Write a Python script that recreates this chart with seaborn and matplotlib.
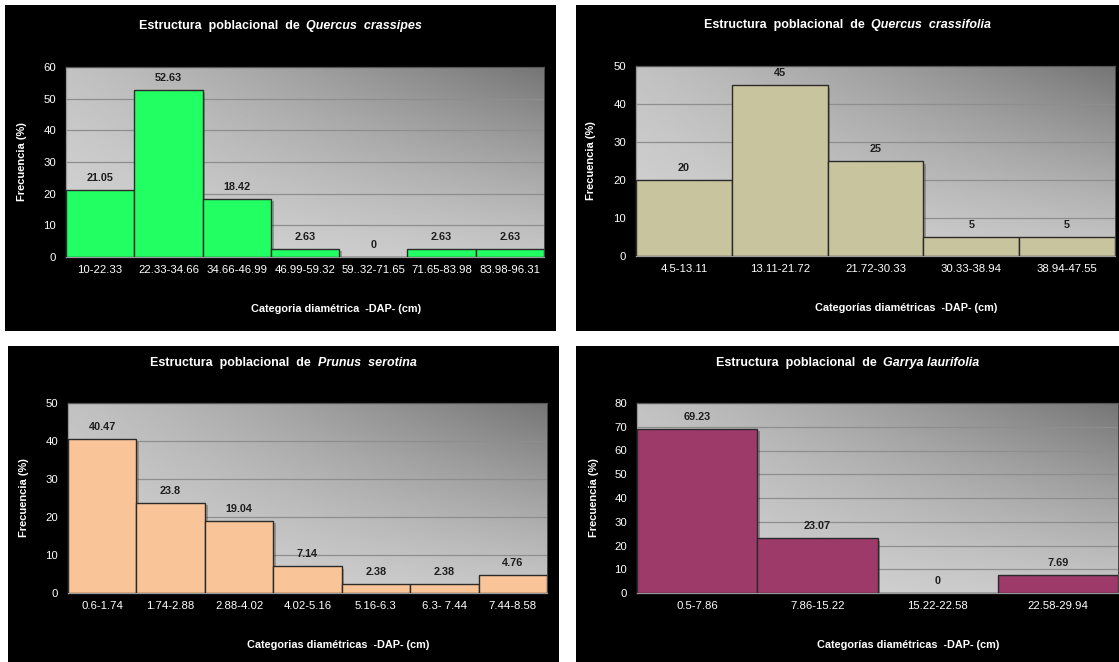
"""Estructura poblacional: four diameter-class histograms
"""

import numpy as np
import pandas as pd
import matplotlib

matplotlib.use("Agg")
import matplotlib.pyplot as plt
import matplotlib.patheffects as pe
from matplotlib.patches import Rectangle
import seaborn as sns

# Data
crassipes_cats = ["10-22.33", "22.33-34.66", "34.66-46.99", "46.99-59.32",
                  "59..32-71.65", "71.65-83.98", "83.98-96.31"]
crassipes_vals = [21.05, 52.63, 18.42, 2.63, 0, 2.63, 2.63]

crassifolia_cats = ["4.5-13.11", "13.11-21.72", "21.72-30.33", "30.33-38.94", "38.94-47.55"]
crassifolia_vals = [20, 45, 25, 5, 5]

serotina_cats = ["0.6-1.74", "1.74-2.88", "2.88-4.02", "4.02-5.16",
                 "5.16-6.3", "6.3- 7.44", "7.44-8.58"]
serotina_vals = [40.47, 23.8, 19.04, 7.14, 2.38, 2.38, 4.76]

laurifolia_cats = ["0.5-7.86", "7.86-15.22", "15.22-22.58", "22.58-29.94"]
laurifolia_vals = [69.23, 23.07, 0, 7.69]

species = ["Quercus  crassipes", "Quercus  crassifolia", "Prunus  serotina", "Garrya laurifolia"]
xlabels = ["Categoria diamétrica  -DAP- (cm)", "Categorías diamétricas  -DAP- (cm)",
           "Categorias diamétricas  -DAP- (cm)", "Categorías diamétricas  -DAP- (cm)"]
ymax = [60, 50, 50, 80]
colors = ["#22ff62", "#c8c49d", "#f9c598", "#9d3a69"]

W, H = 1119, 662

sns.set_theme(style="white")
plt.rcParams["font.family"] = ["Liberation Sans", "DejaVu Sans"]

fig = plt.figure(figsize=(W / 100, H / 100), dpi=100)
fig.patch.set_facecolor("white")

# layout in pixels: black panel box, plot area, title y, ylabel x
panels = [
    dict(box=(5, 5, 556, 331), plot=(66, 67, 544, 257), ty=26, ylx=27),
    dict(box=(576, 5, 1119, 331), plot=(636, 66, 1115, 256), ty=25, ylx=596),
    dict(box=(8, 346, 559, 662), plot=(68, 403, 547, 593), ty=363, ylx=29),
    dict(box=(576, 346, 1119, 662), plot=(637, 403, 1118, 593), ty=363, ylx=599),
]
datasets = [
    (crassipes_cats, crassipes_vals),
    (crassifolia_cats, crassifolia_vals),
    (serotina_cats, serotina_vals),
    (laurifolia_cats, laurifolia_vals),
]

# background gradient: light lower-left, dark upper-right
gx, gy = np.meshgrid(np.linspace(0, 1, 200), np.linspace(0, 1, 100))
grad = 0.84 - 0.08 * gy - 0.06 * gx - 0.24 * (gx * gy) ** 1.2

titles = []
for i, (p, (cats, vals)) in enumerate(zip(panels, datasets)):
    x0, y0, x1, y1 = p["box"]
    fig.patches.append(Rectangle((x0 / W, 1 - y1 / H), (x1 - x0) / W, (y1 - y0) / H,
                                 transform=fig.transFigure, facecolor="black",
                                 edgecolor="none", zorder=0))
    l, t, r, b = p["plot"]
    rect = [l / W, 1 - b / H, (r - l) / W, (b - t) / H]

    bg = fig.add_axes(rect, zorder=1)
    bg.imshow(grad, cmap="gray", vmin=0, vmax=1, origin="lower",
              extent=[0, 1, 0, 1], aspect="auto", interpolation="bilinear")
    bg.axis("off")

    ax = fig.add_axes(rect, zorder=2)
    ax.set_facecolor("none")
    df = pd.DataFrame({"cat": cats, "val": vals})
    sns.barplot(data=df, x="cat", y="val", ax=ax, color=colors[i], saturation=1,
                width=1, edgecolor="#2a2a2a", linewidth=1, zorder=3)
    for bar in ax.patches:
        bar.set_path_effects([pe.SimplePatchShadow(offset=(2, -2), alpha=0.35), pe.Normal()])
    ax.bar_label(ax.containers[0], fmt="%g", padding=5, fontsize=7.8,
                 fontweight="bold", color="#1e1e1e")

    n = len(cats)
    ax.set_xlim(-0.5, n - 0.5)
    ax.set_ylim(0, ymax[i])
    ax.set_yticks(np.arange(0, ymax[i] + 1, 10))
    ax.set_xticks(np.arange(-0.5, n, 1), minor=True)
    ax.grid(True, axis="y", color="#8e8e8e", linewidth=0.9, zorder=1)
    ax.set_axisbelow(True)
    ax.tick_params(axis="x", which="major", length=0, labelsize=8.2, colors="white", pad=6)
    ax.tick_params(axis="x", which="minor", length=3, width=0.8, color="#9a9a9a", direction="out")
    ax.tick_params(axis="y", length=4, width=0.8, color="#9a9a9a", labelsize=8.2,
                   labelcolor="white", direction="out", pad=3)
    for side in ["left", "bottom"]:
        ax.spines[side].set_color("#9a9a9a")
        ax.spines[side].set_linewidth(0.9)
    ax.spines["top"].set_color("#555555")
    ax.spines["top"].set_linewidth(0.9)
    ax.spines["right"].set_color("#555555")
    ax.spines["right"].set_linewidth(0.6)

    ax.set_ylabel("Frecuencia (%)", color="white", fontsize=8, fontweight="bold")
    ax.yaxis.set_label_coords((p["ylx"] - l) / (r - l), 0.5)
    ax.set_xlabel(xlabels[i], color="white", fontsize=7.8, fontweight="bold")
    ax.xaxis.set_label_coords(0.5 + 31 / (r - l), -47 / (b - t))

    cx = (x0 + x1) / 2
    ty = 1 - p["ty"] / H
    t1 = fig.text(0, ty, "Estructura  poblacional  de  ", color="white", fontsize=9,
                  fontweight="bold", va="center", ha="left")
    t2 = fig.text(0, ty, species[i], color="white", fontsize=9,
                  fontweight="bold", fontstyle="italic", va="center", ha="left")
    titles.append((cx, t1, t2))

# center the two-part titles over each panel
renderer = fig.canvas.get_renderer()
for cx, t1, t2 in titles:
    w1 = t1.get_window_extent(renderer).width
    w2 = t2.get_window_extent(renderer).width
    start = cx - (w1 + w2) / 2
    t1.set_x(start / W)
    t2.set_x((start + w1) / W)

fig.savefig("out.png", dpi=100)
